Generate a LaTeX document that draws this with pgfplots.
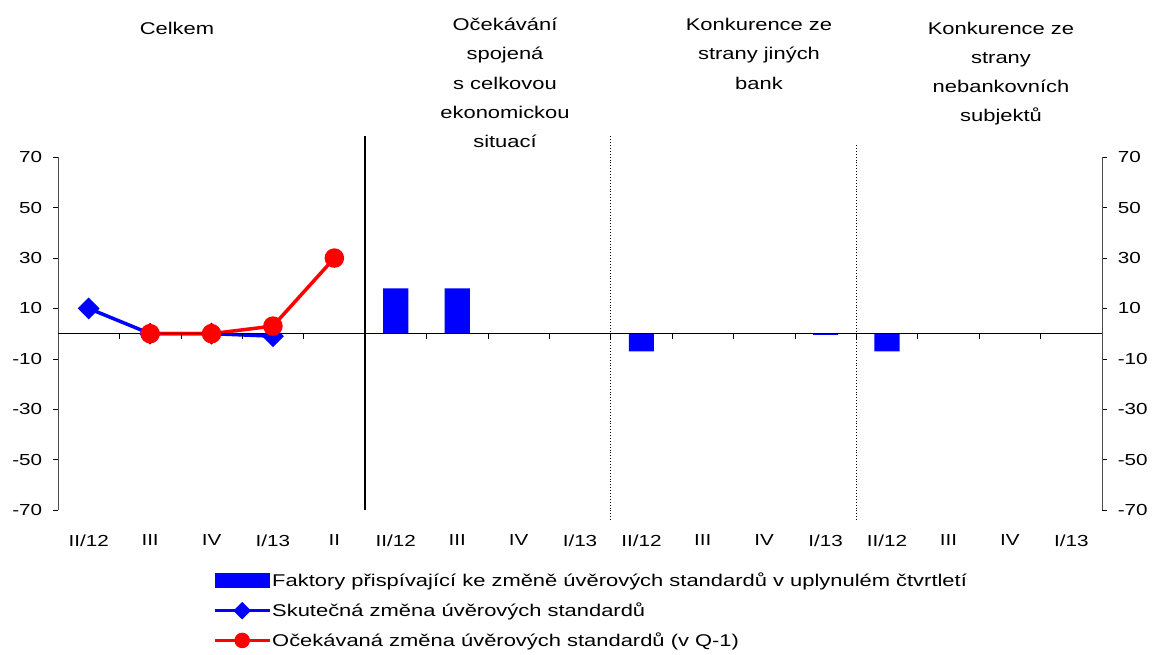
\documentclass[border=0pt]{standalone}
\usepackage{fontspec}
\setmainfont{Liberation Sans}[FakeStretch=1.29]
\usepackage{pgfplots}
\pgfplotsset{compat=1.18}

\pgfplotstableread{
x  y
5  18
6  18
9  -7
12 -0.5
13 -7
}\faktory

\pgfplotstableread{
x  y
0  10
1  0
2  0
3  -1
}\skutecna

\pgfplotstableread{
x  y
1  0
2  0
3  3
4  30
}\ocekavana

\pgfplotsset{
  frame/.style={
    at={(58pt,-510pt)}, anchor=south west,
    scale only axis, width=1044pt, height=352.7pt,
    xmin=-0.5, xmax=16.5, ymin=-70, ymax=70,
    ytick={-70,-50,...,70},
    tick align=outside, major tick length=5pt,
    tick style={black, line width=0.6pt},
    /pgf/number format/assume math mode=true,
    tick label style={font=\fontsize{16pt}{19pt}\selectfont},
    clip=false,
  },
}

\begin{document}
\fontsize{17pt}{20pt}\selectfont
\begin{tikzpicture}
\path[use as bounding box] (0pt,0pt) rectangle (1153pt,-655pt);

\begin{axis}[frame,
  axis y line*=left, axis x line*=bottom,
  x axis line style={draw=none},
  y axis line style={black!70, line width=0.8pt},
  xtick={0,...,16},
  x tick style={draw=none},
  xticklabels={II/12,III,IV,I/13,II,II/12,III,IV,I/13,II/12,III,IV,I/13,II/12,III,IV,I/13},
  xticklabel style={yshift=-14pt},
  yticklabel style={xshift=-5pt},
  legend style={at={(0.1456,-0.169)}, anchor=north west, draw=none, fill=none,
    row sep=11.5pt, nodes={inner sep=1pt, anchor=west}},
  legend cell align=left,
]
\addplot[ybar, bar width=0.41, fill=blue, draw=none,
  legend image code/.code={\fill[blue] (0pt,-7.5pt) rectangle (55pt,7.5pt);}]
  table[x=x, y=y] {\faktory};
\addlegendentry{Faktory přispívající ke změně úvěrových standardů v uplynulém čtvrtletí}

\addplot[blue, line width=3.5pt, mark=square*, mark size=6pt,
  mark options={rotate=45, solid},
  legend image code/.code={
    \draw[blue, line width=3pt] (0pt,0pt) -- (55pt,0pt);
    \fill[blue, rotate around={45:(27.5pt,0pt)}] (23pt,-4.5pt) rectangle (32pt,4.5pt);}]
  table[x=x, y=y] {\skutecna};
\addlegendentry{Skutečná změna úvěrových standardů}

\addplot[red, line width=3.5pt, mark=*, mark size=8pt,
  legend image code/.code={
    \draw[red, line width=3pt] (0pt,0pt) -- (55pt,0pt);
    \fill[red] (27.5pt,0pt) circle (6pt);}]
  table[x=x, y=y] {\ocekavana};
\addlegendentry{Očekávaná změna úvěrových standardů (v Q-1)}

\draw[black, line width=0.8pt] (axis cs:-0.5,0) -- (axis cs:16.5,0);
\pgfplotsinvokeforeach{0.5,1.5,...,15.5}{
  \draw[black, line width=0.6pt] (axis cs:#1,0) -- ++(0pt,-5pt);
}
\draw[black, line width=1.2pt] (axis cs:4.5,-70) -- (axis cs:4.5,78.5);
\draw[black, line width=0.9pt, dotted] (axis cs:8.5,-74) -- (axis cs:8.5,79);
\draw[black, line width=0.9pt, dotted] (axis cs:12.5,-74) -- (axis cs:12.5,75);
\end{axis}

\begin{axis}[frame,
  axis y line*=right, axis x line=none,
  y axis line style={black!70, line width=0.8pt},
  yticklabel style={xshift=5pt},
]
\end{axis}

\node[anchor=base] at (177pt,-34.3pt) {Celkem};

\node[anchor=base] at (505pt,-30.7pt) {Očekávání};
\node[anchor=base] at (505pt,-59.9pt) {spojená};
\node[anchor=base] at (505pt,-89.1pt) {s celkovou};
\node[anchor=base] at (505pt,-118.3pt) {ekonomickou};
\node[anchor=base] at (505pt,-147.5pt) {situací};

\node[anchor=base] at (759pt,-30.7pt) {Konkurence ze};
\node[anchor=base] at (759pt,-59.9pt) {strany jiných};
\node[anchor=base] at (759pt,-89.1pt) {bank};

\node[anchor=base] at (1001pt,-34.3pt) {Konkurence ze};
\node[anchor=base] at (1001pt,-63.5pt) {strany};
\node[anchor=base] at (1001pt,-92.7pt) {nebankovních};
\node[anchor=base] at (1001pt,-121.9pt) {subjektů};
\end{tikzpicture}
\end{document}
